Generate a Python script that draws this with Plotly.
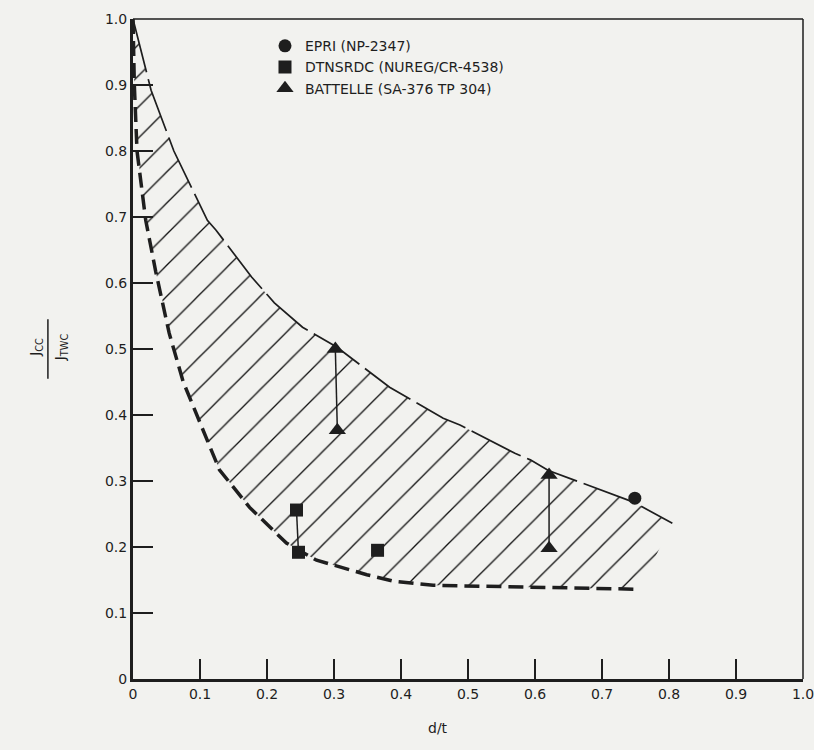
import plotly.graph_objects as go

# Upper bound (solid, long-dash) curve
upper_x = [0.0, 0.027, 0.061, 0.111, 0.124, 0.177, 0.211, 0.253, 0.304, 0.383, 0.463, 0.488, 0.570, 0.593, 0.620, 0.698, 0.747, 0.805]
upper_y = [1.0, 0.892, 0.800, 0.695, 0.680, 0.609, 0.570, 0.533, 0.503, 0.442, 0.395, 0.385, 0.342, 0.332, 0.316, 0.286, 0.268, 0.236]

# Lower bound (heavy dashed) curve
lower_x = [0.0, 0.002, 0.006, 0.012, 0.019, 0.034, 0.046, 0.054, 0.075, 0.099, 0.129, 0.174, 0.229, 0.274, 0.349, 0.390, 0.448, 0.550, 0.650, 0.755]
lower_y = [1.0, 0.900, 0.800, 0.756, 0.695, 0.617, 0.564, 0.524, 0.450, 0.392, 0.317, 0.260, 0.206, 0.180, 0.158, 0.148, 0.142, 0.140, 0.138, 0.136]

# Data points
epri_x = [0.749]
epri_y = [0.274]
dtn_x = [0.244, 0.247, 0.365]
dtn_y = [0.256, 0.192, 0.195]
bat_x = [0.302, 0.305, 0.621, 0.621]
bat_y = [0.500, 0.377, 0.309, 0.198]

# Vertical connectors between paired results (index pairs into series)
dtn_pairs = [(0, 1)]
bat_pairs = [(0, 1), (2, 3)]

tick_vals = [0.0, 0.1, 0.2, 0.3, 0.4, 0.5, 0.6, 0.7, 0.8, 0.9, 1.0]
tick_text = ["0", "0.1", "0.2", "0.3", "0.4", "0.5", "0.6", "0.7", "0.8", "0.9", "1.0"]

legend_names = ["EPRI (NP-2347)", "DTNSRDC (NUREG/CR-4538)", "BATTELLE (SA-376 TP 304)"]

INK = "#1e1e1e"
BG = "#f2f2ef"
FONT = "DejaVu Sans"

fig = go.Figure()

# Hatched band between curves
poly_x = upper_x + lower_x[::-1]
poly_y = upper_y + lower_y[::-1]
fig.add_trace(go.Scatter(
    x=poly_x, y=poly_y, mode="none", fill="toself",
    fillcolor="rgba(0,0,0,0)",
    fillpattern=dict(shape="/", size=22, solidity=0.06, fgcolor="#111111",
                     bgcolor="rgba(0,0,0,0)"),
    showlegend=False, hoverinfo="skip"))

fig.add_trace(go.Scatter(
    x=upper_x, y=upper_y, mode="lines",
    line=dict(color=INK, width=1.7, dash="55px,7px"),
    showlegend=False, hoverinfo="skip"))

fig.add_trace(go.Scatter(
    x=lower_x, y=lower_y, mode="lines",
    line=dict(color=INK, width=3.5, dash="15px,7px"),
    showlegend=False, hoverinfo="skip"))

for xs, ys, pairs in [(dtn_x, dtn_y, dtn_pairs), (bat_x, bat_y, bat_pairs)]:
    for i, j in pairs:
        fig.add_trace(go.Scatter(
            x=[xs[i], xs[j]], y=[ys[i], ys[j]], mode="lines",
            line=dict(color=INK, width=1.5), showlegend=False, hoverinfo="skip"))

fig.add_trace(go.Scatter(x=epri_x, y=epri_y, mode="markers", name=legend_names[0],
                         marker=dict(symbol="circle", size=13, color=INK)))
fig.add_trace(go.Scatter(x=dtn_x, y=dtn_y, mode="markers", name=legend_names[1],
                         marker=dict(symbol="square", size=13, color=INK)))
fig.add_trace(go.Scatter(x=bat_x, y=bat_y, mode="markers", name=legend_names[2],
                         marker=dict(symbol="triangle-up", size=15, color=INK)))

axis_common = dict(
    range=[0, 1], tickvals=tick_vals, ticktext=tick_text,
    ticks="inside", ticklen=20, tickwidth=1.5, tickcolor=INK,
    showline=True, linewidth=3, linecolor=INK, showgrid=False, zeroline=False,
    automargin=False, ticklabeloverflow="allow",
    tickfont=dict(family=FONT, size=14, color=INK),
)

fig.update_layout(
    template="none",
    width=814, height=750,
    margin=dict(l=133, r=11, t=19, b=71, autoexpand=False),
    paper_bgcolor=BG, plot_bgcolor=BG,
    xaxis=dict(**axis_common),
    yaxis=dict(**axis_common),
    font=dict(family=FONT, color=INK),
    legend=dict(x=0.197, y=0.983, xanchor="left", yanchor="top",
                bgcolor="rgba(0,0,0,0)", borderwidth=0,
                font=dict(family=FONT, size=14, color=INK),
                itemwidth=30, tracegroupgap=0),
    shapes=[
        dict(type="line", xref="paper", yref="paper", x0=0, x1=1, y0=1, y1=1,
             line=dict(color=INK, width=1.5)),
        dict(type="line", xref="paper", yref="paper", x0=1, x1=1, y0=0, y1=1,
             line=dict(color=INK, width=1.5)),
        dict(type="line", xref="paper", yref="paper", x0=-0.127, x1=-0.127, y0=0.455, y1=0.545,
             line=dict(color=INK, width=1.5)),
    ],
    annotations=[
        dict(text="d/t", xref="paper", yref="paper", x=0.455, y=-0.09,
             showarrow=False, font=dict(family=FONT, size=14, color=INK)),
        dict(text="J<sub>CC</sub>", xref="paper", yref="paper", x=-0.145, y=0.503,
             textangle=-90, showarrow=False, xanchor="center", yanchor="middle",
             font=dict(family=FONT, size=14, color=INK)),
        dict(text="J<sub>TWC</sub>", xref="paper", yref="paper", x=-0.107, y=0.503,
             textangle=-90, showarrow=False, xanchor="center", yanchor="middle",
             font=dict(family=FONT, size=14, color=INK)),
    ],
)

fig.write_html("out.html")
